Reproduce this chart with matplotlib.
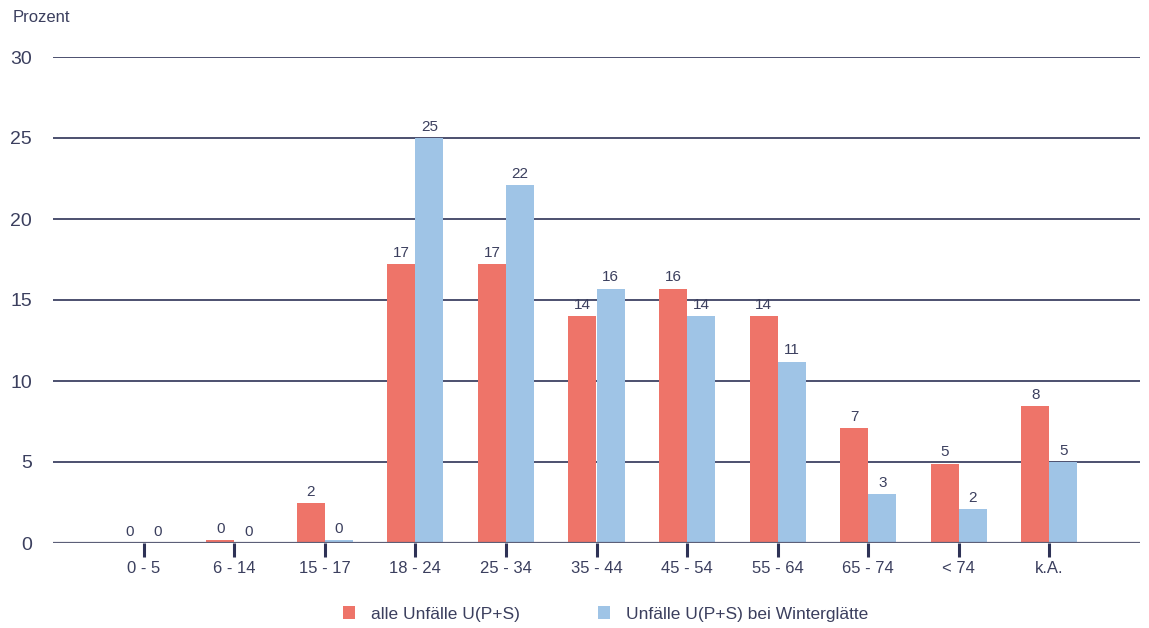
import matplotlib.pyplot as plt
import numpy as np

plt.rcParams['font.family'] = ['Liberation Sans', 'DejaVu Sans']

altersgruppen = ['0 - 5', '6 - 14', '15 - 17', '18 - 24', '25 - 34', '35 - 44',
                 '45 - 54', '55 - 64', '65 - 74', '< 74', 'k.A.']
alle_unfaelle = [0.0, 0.2, 2.45, 17.2, 17.2, 14.0, 15.7, 14.0, 7.1, 4.9, 8.45]
winterglaette = [0.0, 0.0, 0.2, 25.0, 22.1, 15.7, 14.0, 11.2, 3.0, 2.1, 5.0]
y_ticks = [0, 5, 10, 15, 20, 25, 30]

rot = '#ee7469'
blau = '#9fc4e6'
navy = '#2e3256'
textfarbe = '#3b3f5e'

fig = plt.figure(figsize=(11.49, 6.28), dpi=100)
ax = fig.add_axes([53 / 1149, 85 / 628, 1087 / 1149, 486 / 628])

x = np.arange(len(altersgruppen))
w = 0.31

ax.set_axisbelow(True)
for y in y_ticks[1:]:
    ax.axhline(y, color=navy, lw=1.2, zorder=0)
ax.axhline(0, color='#5c5f78', lw=1.6, zorder=3)

b1 = ax.bar(x - w / 2, alle_unfaelle, w, color=rot, zorder=2, linewidth=0,
            label='alle Unfälle U(P+S)')
b2 = ax.bar(x + w / 2, winterglaette, w, color=blau, zorder=2, linewidth=0,
            label='Unfälle U(P+S) bei Winterglätte')

for bars, vals in ((b1, alle_unfaelle), (b2, winterglaette)):
    for rect, v in zip(bars, vals):
        ax.annotate(f'{v:.0f}', (rect.get_x() + rect.get_width() / 2, v),
                    xytext=(0, 3), textcoords='offset points',
                    ha='center', va='bottom', fontsize=11, color=textfarbe)

ax.set_xlim(-1.0, 11.0)
ax.set_ylim(0, 30)
ax.set_yticks(y_ticks)
ax.set_xticks(x)
ax.set_xticklabels(altersgruppen)
ax.tick_params(axis='x', length=10, width=2.2, color=navy, pad=3,
               labelsize=12, labelcolor=textfarbe)
ax.tick_params(axis='y', length=0, pad=15, labelsize=14, labelcolor=textfarbe)
for s in ax.spines.values():
    s.set_visible(False)

fig.text(13 / 1149, 1 - 18 / 628, 'Prozent', fontsize=12, color=textfarbe,
         va='center', ha='left')

fig.legend(handles=[b1, b2], loc='center', bbox_to_anchor=(0.527, 1 - 614 / 628),
           ncol=2, frameon=False, fontsize=12.5, labelcolor=textfarbe,
           handlelength=0.7, handleheight=0.7, columnspacing=4.5,
           handletextpad=0.9)

fig.savefig('out.png', dpi=100)
